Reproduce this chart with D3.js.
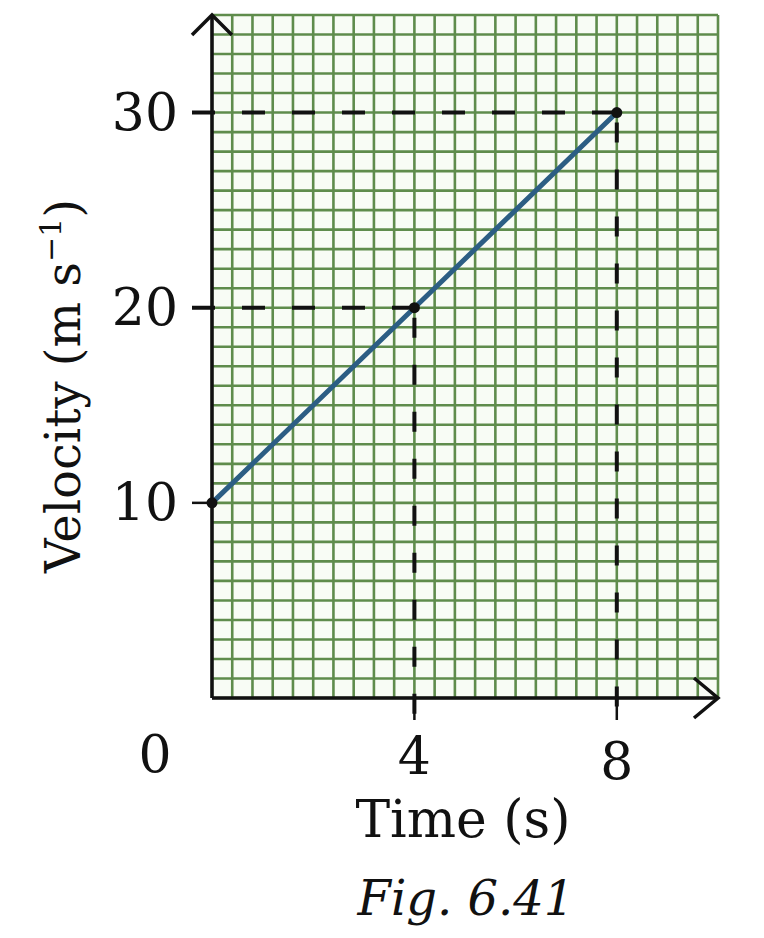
<!DOCTYPE html>
<html>
<head>
<meta charset="utf-8">
<script src="https://cdn.jsdelivr.net/npm/d3@7"></script>
<style>
  body { margin: 0; background: #fff; }
  text { font-family: "DejaVu Serif", serif; fill: #111; }
</style>
</head>
<body>
<div id="chart"></div>
<script>
// data
const times = [0, 4, 8];
const velocities = [10, 20, 30];
const xTicks = [4, 8];
const yTicks = [10, 20, 30];
const xLabel = "Time (s)";
const caption = "Fig. 6.41";

const W = 764, H = 938;
const margin = {top: 15, right: 46, bottom: 240, left: 212};

const svg = d3.select("#chart").append("svg")
    .attr("width", W)
    .attr("height", H);

const x = d3.scaleLinear().domain([0, 10]).range([margin.left, W - margin.right]);
const y = d3.scaleLinear().domain([0, 35]).range([H - margin.bottom, margin.top]);

// graph paper
svg.append("rect")
    .attr("x", x(0)).attr("y", y(35))
    .attr("width", x(10) - x(0)).attr("height", y(0) - y(35))
    .attr("fill", "#f8fcf5");

const grid = svg.append("g").attr("stroke", "#5f8c4c").attr("stroke-width", 2.6);
grid.selectAll(".gv").data(d3.range(0, 26).map(i => i * 0.4))
    .join("line")
    .attr("x1", d => x(d)).attr("x2", d => x(d))
    .attr("y1", y(0)).attr("y2", y(35));
grid.selectAll(".gh").data(d3.range(0, 36))
    .join("line")
    .attr("y1", d => y(d)).attr("y2", d => y(d))
    .attr("x1", x(0)).attr("x2", x(10));

// dashed guides
const pts = times.map((t, i) => ({t: t, v: velocities[i]}));
const guides = pts.filter(d => d.t > 0);
const dash = svg.append("g").attr("stroke", "#111").attr("stroke-width", 4).attr("fill", "none");
dash.selectAll(".hg").data(guides).join("line")
    .attr("x1", x(0) - 20).attr("x2", d => x(d.t))
    .attr("y1", d => y(d.v)).attr("y2", d => y(d.v))
    .attr("stroke-dasharray", "23,27");
dash.selectAll(".vg").data(guides).join("line")
    .attr("x1", d => x(d.t)).attr("x2", d => x(d.t))
    .attr("y1", d => y(d.v)).attr("y2", y(0) + 20)
    .attr("stroke-dasharray", "20,27")
    .attr("stroke-dashoffset", -10);

// axes
const ax = svg.append("g").attr("stroke", "#111").attr("stroke-width", 3.5).attr("fill", "none");
ax.append("line").attr("x1", x(0)).attr("x2", x(0)).attr("y1", y(0)).attr("y2", y(35));
ax.append("line").attr("x1", x(0)).attr("x2", x(10)).attr("y1", y(0)).attr("y2", y(0));
ax.append("polyline")
    .attr("points", `${x(0) - 20},${y(35) + 20} ${x(0)},${y(35)} ${x(0) + 20},${y(35) + 20}`)
    .attr("stroke-linejoin", "miter");
ax.append("polyline")
    .attr("points", `${x(10) - 24},${y(0) - 20} ${x(10)},${y(0)} ${x(10) - 24},${y(0) + 20}`);

// tick marks
ax.selectAll(".yt").data(yTicks).join("line")
    .attr("stroke-width", 2.5)
    .attr("x1", x(0) - 20).attr("x2", x(0))
    .attr("y1", d => y(d)).attr("y2", d => y(d));
ax.selectAll(".xt").data(xTicks).join("line")
    .attr("stroke-width", 2.5)
    .attr("y1", y(0)).attr("y2", y(0) + 22)
    .attr("x1", d => x(d)).attr("x2", d => x(d));

// tick labels
svg.selectAll(".yl").data(yTicks).join("text")
    .attr("x", x(0) - 34).attr("y", d => y(d) + 17)
    .attr("text-anchor", "end")
    .attr("font-size", 52)
    .text(d => d);
svg.selectAll(".xl").data(xTicks).join("text")
    .attr("x", d => x(d)).attr("y", (d, i) => y(0) + 76 + i * 5)
    .attr("text-anchor", "middle")
    .attr("font-size", 52)
    .text(d => d);
svg.append("text")
    .attr("x", x(0) - 57).attr("y", y(0) + 74)
    .attr("text-anchor", "middle")
    .attr("font-size", 52)
    .text(0);

// velocity line
const line = d3.line().x(d => x(d.t)).y(d => y(d.v));
svg.append("path")
    .datum(pts)
    .attr("d", line)
    .attr("fill", "none")
    .attr("stroke", "#2c5e84")
    .attr("stroke-width", 5);

svg.selectAll(".pt").data(pts).join("circle")
    .attr("cx", d => x(d.t)).attr("cy", d => y(d.v))
    .attr("r", 5.5)
    .attr("fill", "#111");

// axis titles
svg.append("text")
    .attr("x", 463).attr("y", 837)
    .attr("text-anchor", "middle")
    .attr("font-size", 52)
    .text(xLabel);

const yt = svg.append("text")
    .attr("transform", "translate(80,386) rotate(-90)")
    .attr("text-anchor", "middle")
    .attr("font-size", 48);
yt.append("tspan").text("Velocity (m s");
yt.append("tspan").attr("dy", -19).attr("font-size", 30).text("\u22121");
yt.append("tspan").attr("dy", 19).text(")");

svg.append("text")
    .attr("x", 466).attr("y", 915)
    .attr("text-anchor", "middle")
    .attr("font-size", 48)
    .attr("font-style", "italic")
    .text(caption);
</script>
</body>
</html>
